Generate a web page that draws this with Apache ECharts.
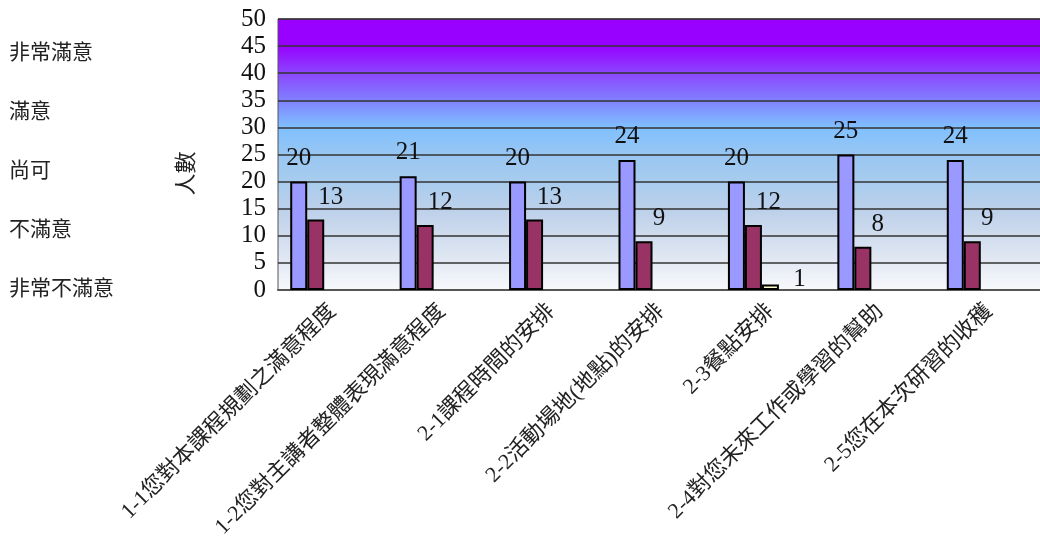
<!DOCTYPE html>
<html><head><meta charset="utf-8">
<script src="https://cdn.jsdelivr.net/npm/echarts@6/dist/echarts.min.js"></script>
<style>html,body{margin:0;padding:0;background:#fff}#c{width:1040px;height:539px}</style>
</head><body><div id="c"></div>
<script>
const categories = ['1-1您對本課程規劃之滿意程度','1-2您對主講者整體表現滿意程度','2-1課程時間的安排','2-2活動場地(地點)的安排','2-3餐點安排','2-4對您未來工作或學習的幫助','2-5您在本次研習的收穫'];
const seriesNames = ['非常滿意','滿意','尚可','不滿意','非常不滿意'];
const verySatisfied = [20,21,20,24,20,25,24];
const satisfied = [13,12,13,9,12,8,9];
const fair = [0,0,0,0,1,0,0];
const unsatisfied = [0,0,0,0,0,0,0];
const veryUnsatisfied = [0,0,0,0,0,0,0];
const yTicks = [0,5,10,15,20,25,30,35,40,45,50];

const serif = '"Liberation Serif","Noto Sans CJK TC",serif';
const colors = ['#9999ff','#993366','#ffffcc','#ccffff','#660066'];
const offsets = [[0,-6],[15,-5],[29,12],[0,0],[0,0]];
const dataSets = [verySatisfied, satisfied, fair, unsatisfied, veryUnsatisfied];

const chart = echarts.init(document.getElementById('c'));
chart.setOption({
  animation:false,
  legend:{
    orient:'vertical', left:-1, top:37,
    itemWidth:0, itemHeight:22, itemGap:37,
    icon:'rect', itemStyle:{opacity:0, borderWidth:0},
    data:seriesNames,
    textStyle:{fontFamily:serif, fontSize:21, lineHeight:22, color:'#222'}
  },
  grid:{left:278, right:-4, top:19, bottom:249, show:true, outerBoundsMode:'none', containLabel:false,
    borderColor:'#555', borderWidth:1,
    backgroundColor:new echarts.graphic.LinearGradient(0,0,0,1,[
      {offset:0,color:'#9900ff'},{offset:0.1,color:'#9700ff'},
      {offset:0.2,color:'#8c45ff'},{offset:0.3,color:'#8080ff'},
      {offset:0.4,color:'#80c0ff'},{offset:0.5,color:'#98c6f2'},
      {offset:0.6,color:'#a8ccee'},{offset:0.7,color:'#bcd0ea'},
      {offset:0.8,color:'#d0dcee'},{offset:0.9,color:'#e4eaf4'},
      {offset:1,color:'#f8f9fc'}])},
  xAxis:{type:'category', data:categories,
    axisLine:{lineStyle:{color:'#555',width:2}},
    axisTick:{inside:true,length:5,lineStyle:{color:'#333'}},
    axisLabel:{rotate:45, fontFamily:serif, fontSize:22, color:'#222', margin:18, interval:0}},
  yAxis:{type:'value', min:yTicks[0], max:yTicks[yTicks.length-1], interval:5,
    name:'人數', nameLocation:'middle', nameGap:80,
    nameTextStyle:{fontFamily:serif, fontSize:22, color:'#222', padding:[0,38,0,0]},
    axisLine:{show:false}, axisTick:{show:false},
    axisLabel:{fontFamily:serif, fontSize:25, color:'#111', margin:12},
    splitLine:{lineStyle:{color:'#333',width:1.5}}},
  series:seriesNames.map((n,i)=>({
    name:n, type:'bar', data:dataSets[i].map(v=>v===0?'-':v), barWidth:17, barGap:'0%',
    itemStyle:{color:colors[i], borderColor:'#000', borderWidth:2},
    label:{show:true, position:'top', offset:offsets[i], fontFamily:serif, fontSize:25, color:'#111'}
  }))
});
</script></body></html>
